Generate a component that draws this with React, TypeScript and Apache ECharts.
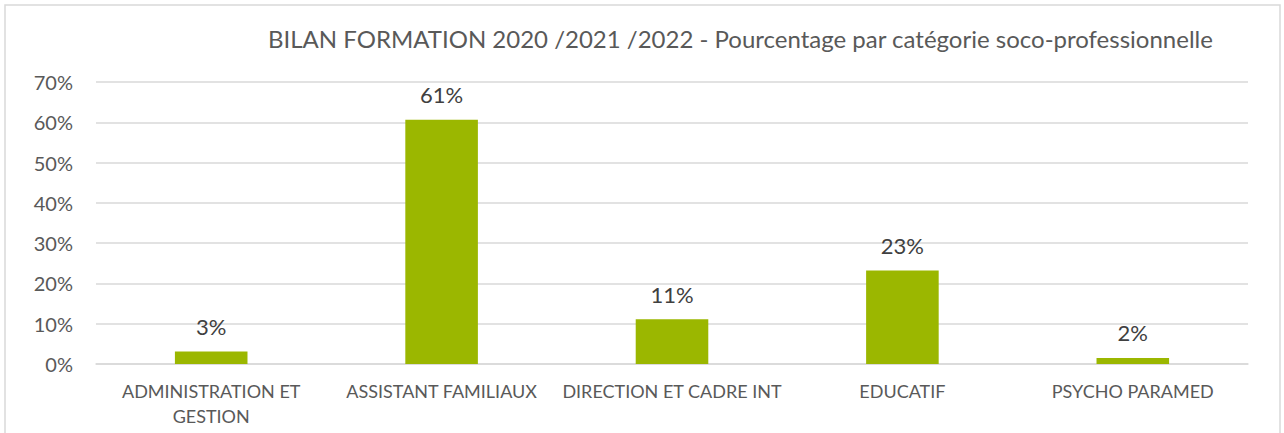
import React, { useEffect, useRef } from "react";
import * as echarts from "echarts";

const categories = [
  "ADMINISTRATION ET\nGESTION",
  "ASSISTANT FAMILIAUX",
  "DIRECTION ET CADRE INT",
  "EDUCATIF",
  "PSYCHO PARAMED",
];
const values = [0.031, 0.606, 0.111, 0.232, 0.015];
const titleText =
  "BILAN FORMATION 2020 /2021 /2022 - Pourcentage par catégorie soco-professionnelle";

const FONT = "Lato, 'Open Sans', sans-serif";

export default function App() {
  const ref = useRef<HTMLDivElement>(null);
  useEffect(() => {
    if (!ref.current) return;
    const chart = echarts.init(ref.current, null, { renderer: "svg" });
    chart.setOption({
      animation: false,
      backgroundColor: "#ffffff",
      textStyle: { fontFamily: FONT },
      title: {
        text: titleText,
        left: 263,
        top: 21,
        textStyle: { fontFamily: FONT, fontSize: 24, fontWeight: "normal", color: "#595959" },
      },
      graphic: [
        {
          type: "rect",
          shape: { x: 5, y: 5, width: 1275, height: 460 },
          style: { fill: "none", stroke: "#D9D9D9", lineWidth: 1.5 },
          silent: true,
          z: 0,
        },
      ],
      grid: { left: 96, right: 36, top: 82, bottom: 69 },
      xAxis: {
        type: "category",
        data: categories,
        axisLine: { show: true, lineStyle: { color: "#D9D9D9", width: 1.5 } },
        axisTick: { show: false },
        axisLabel: {
          color: "#595959",
          fontFamily: FONT,
          fontSize: 18,
          lineHeight: 25,
          margin: 14,
          interval: 0,
        },
      },
      yAxis: {
        type: "value",
        min: 0,
        max: 0.7,
        interval: 0.1,
        axisLine: { show: false },
        axisTick: { show: false },
        splitLine: { lineStyle: { color: "#D9D9D9", width: 1.5 } },
        axisLabel: {
          color: "#595959",
          fontFamily: FONT,
          fontSize: 20,
          margin: 23,
          formatter: (v: number) => Math.round(v * 100) + "%",
        },
      },
      series: [
        {
          type: "bar",
          data: values,
          barWidth: "31.5%",
          itemStyle: { color: "#9BB700" },
          label: {
            show: true,
            position: "top",
            distance: 14,
            color: "#404040",
            fontFamily: FONT,
            fontSize: 22,
            formatter: (p: any) => Math.round(p.value * 100) + "%",
          },
        },
      ],
    });
    return () => chart.dispose();
  }, []);
  return (
    <div
      ref={ref}
      style={{ position: "fixed", left: 0, top: 0, width: 1284, height: 433 }}
    />
  );
}
